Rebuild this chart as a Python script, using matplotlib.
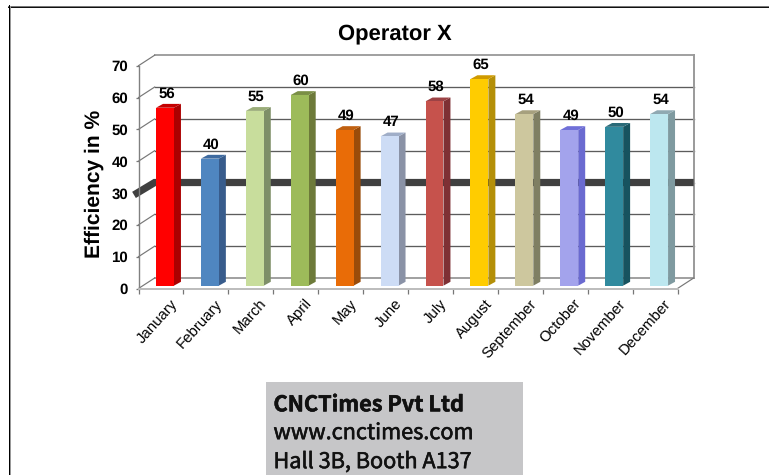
import numpy as np
import matplotlib
matplotlib.use("Agg")
import matplotlib.pyplot as plt
import matplotlib.patheffects as pe
from matplotlib.lines import Line2D
from matplotlib.patches import Polygon, Rectangle

plt.rcParams['text.hinting'] = 'no_hinting'
plt.rcParams['text.hinting_factor'] = 1

months = ['January', 'February', 'March', 'April', 'May', 'June', 'July',
          'August', 'September', 'October', 'November', 'December']
efficiency = [56, 40, 55, 60, 49, 47, 58, 65, 54, 49, 50, 54]
target = 30
y_ticks = [0, 10, 20, 30, 40, 50, 60, 70]

front_colors = ['#ff0000', '#4f86c0', '#c8dd9c', '#9dbb5a', '#e96c07', '#cddcf5',
                '#c6524c', '#ffcc00', '#cdc79e', '#a3a3ec', '#308a9e', '#bce7ef']
side_colors = ['#ab0000', '#385c8c', '#7e8f68', '#6d7a3a', '#9a4c0a', '#8a92a6',
               '#7e3034', '#b48f08', '#7f7f63', '#6a6ad0', '#17535f', '#7f9aa0']
top_colors = ['#c40000', '#3f6ba0', '#9aac78', '#7a8f45', '#c06010', '#a0aec8',
              '#9c4245', '#cf9a00', '#a6a07e', '#7070d8', '#2a6a78', '#8fa9b2']

# room for the fake 3d look, in data units
depth_x = 0.36
depth_y = 3.3
bar_width = 0.40
bar_shift = 0.09
bar_base = 0.9
side_x = 0.155
side_y = 1.2

fig = plt.figure(figsize=(7.69, 4.75), dpi=100)
ax = fig.add_axes([138.5 / 769, 1 - 288.5 / 475, 539 / 769, 222.8 / 475])
ax.set_xlim(-0.5, 11.5)
ax.set_ylim(0, 70)
ax.patch.set_alpha(0)

x0, x1 = -0.5, 11.5

# back wall and floor
for v in y_ticks:
    light = v in (0, 70)
    col = '#a0a0a0' if light else '#5c5c5c'
    ax.plot([x0 + depth_x, x1 + depth_x], [v + depth_y, v + depth_y], color=col,
            lw=1.4 if light else 0.95, clip_on=False, zorder=1)
    ax.plot([x0, x0 + depth_x], [v, v + depth_y], color='#777777', lw=0.85,
            clip_on=False, zorder=1)
ax.plot([x1 + depth_x, x1 + depth_x], [depth_y, 70 + depth_y], color='#9a9a9a', lw=1.4,
        clip_on=False, zorder=1)
ax.plot([x1, x1 + depth_x], [0, depth_y], color='#777777', lw=0.85, clip_on=False, zorder=1)

# target band
ax.plot([x0 - 0.1, x0 + depth_x, x1 + depth_x],
        [target - 0.6, target + depth_y, target + depth_y],
        color='#404040', lw=5.2, solid_capstyle='butt', solid_joinstyle='miter',
        clip_on=False, zorder=2)

# bars
xs = np.arange(len(months)) + bar_shift
for i in range(len(months)):
    left = xs[i] - bar_width / 2
    right = xs[i] + bar_width / 2
    top = efficiency[i] + bar_base - 0.1
    ax.bar(xs[i], top - bar_base, bottom=bar_base, width=bar_width,
           color=front_colors[i], zorder=4)
    ax.add_patch(Polygon([(right, bar_base), (right + side_x, bar_base + side_y),
                          (right + side_x, top + side_y), (right, top)],
                         closed=True, facecolor=side_colors[i], edgecolor='none', zorder=3.5))
    ax.add_patch(Polygon([(left, top), (right, top), (right + side_x, top + side_y),
                          (left + side_x, top + side_y)],
                         closed=True, facecolor=top_colors[i], edgecolor='none', zorder=3.5))
    ax.annotate(str(efficiency[i]), (xs[i], top), xytext=(1, 10),
                textcoords='offset points', ha='center', va='center',
                fontsize=11, fontweight='bold', family='Liberation Sans', color='black',
                zorder=6)

# axes
for s in ['top', 'right']:
    ax.spines[s].set_visible(False)
ax.spines['left'].set_color('#808080')
ax.spines['left'].set_linewidth(1.0)
ax.spines['bottom'].set_color('#bcbcbc')
ax.spines['bottom'].set_linewidth(1.4)
ax.set_yticks(y_ticks)
ax.set_yticklabels([str(v) for v in y_ticks], fontsize=11, fontweight='bold',
                   family='Liberation Sans')
ax.tick_params(axis='y', length=2.5, width=0.9, color='#777777', pad=5)
ax.set_xticks(np.arange(len(months) + 1) - 0.5)
ax.set_xticklabels([''] * (len(months) + 1))
ax.tick_params(axis='x', length=3.5, width=0.9, color='#777777')

for i, m in enumerate(months):
    ax.annotate(m, (i, 0), xytext=(6.5, -6), textcoords='offset points', ha='right', va='top',
                rotation=48, rotation_mode='anchor', fontsize=10.6,
                family='Liberation Sans', color='black', annotation_clip=False)

fig.text(94 / 769, 1 - 183.5 / 475, 'Efficiency in %', rotation=90, ha='center', va='center',
         fontsize=15.4, fontweight='bold', family='Liberation Sans')
fig.text(394.5 / 769, 1 - 34 / 475, 'Operator X', ha='center', va='center',
         fontsize=15.5, fontweight='bold', family='Liberation Sans')

# outer frame of the slide
fig.add_artist(Line2D([8 / 769, 1], [1 - 5.5 / 475, 1 - 5.5 / 475], color='#777777', lw=0.72))
fig.add_artist(Line2D([8 / 769, 1], [1 - 6.5 / 475, 1 - 6.5 / 475], color='#111111', lw=0.72))
fig.add_artist(Line2D([8.5 / 769, 8.5 / 769], [0, 1 - 5 / 475], color='#000000', lw=0.72))
fig.add_artist(Line2D([9.5 / 769, 9.5 / 769], [0, 1 - 6 / 475], color='#999999', lw=0.72))

# company box
fig.add_artist(Rectangle((266 / 769, 0), 257 / 769, 93 / 475, transform=fig.transFigure,
                         facecolor='#c6c6c8', edgecolor='none'))
box_font = 'Noto Sans CJK JP'
heavier = [pe.withStroke(linewidth=0.4, foreground='#111111')]
fig.text(273.5 / 769, 1 - 405 / 475, 'CNCTimes Pvt Ltd', ha='left', va='center',
         fontsize=15.6, fontweight='bold', family=box_font, color='#111111',
         path_effects=heavier)
fig.text(273.5 / 769, 1 - 433 / 475, 'www.cnctimes.com', ha='left', va='center',
         fontsize=15.6, family=box_font, color='#111111', path_effects=heavier)
fig.text(273.5 / 769, 1 - 462 / 475, 'Hall 3B, Booth A137', ha='left', va='center',
         fontsize=15.6, family=box_font, color='#111111', path_effects=heavier)

fig.savefig('out.png', dpi=100)
